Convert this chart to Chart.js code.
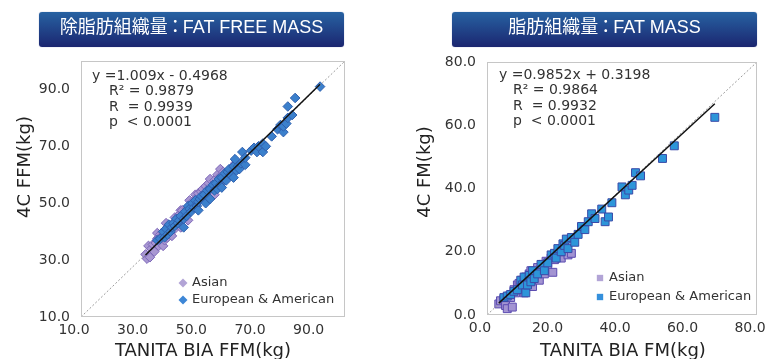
<!DOCTYPE html>
<html>
<head>
<meta charset="utf-8">
<script src="https://cdn.jsdelivr.net/npm/chart.js@4"></script>
<style>
  body { margin: 0; background: #fff; width: 768px; height: 359px; position: relative; overflow: hidden; }
  .box { position: absolute; top: 0; width: 384px; height: 359px; }
  .banner {
    position: absolute; top: 12px; height: 35px; width: 305px; border-radius: 3px;
    background: linear-gradient(#2762a2, #1b2670);
    box-shadow: 0 0 1px #7f88b8;
    color: #fff; text-align: center; line-height: 35px;
    font: 18px "Liberation Sans", "Noto Sans CJK JP", sans-serif;
    font-feature-settings: "halt";
  }
  .banner span { margin: 0 3px; }
</style>
</head>
<body>
<div class="box" style="left:0"><canvas id="ffm" width="384" height="359"></canvas></div>
<div class="box" style="left:384px"><canvas id="fm" width="384" height="359"></canvas></div>
<div class="banner" style="left:39px">除脂肪組織量<span>：</span>FAT FREE MASS</div>
<div class="banner" style="left:452px">脂肪組織量<span>：</span>FAT MASS</div>
<script>
// values, [BIA, 4C] pairs
const ffmAsian = [
  [32,32],[32.5,30.5],[33,35],[33.5,31],[34,34],[34.5,35.5],[35,33],[35.5,36],[36,37.5],[36,39.5],
  [36.5,35],[36.5,38],[37,39],[37.5,36.5],[37.5,38.5],[38,35],[38,40],[38.5,37],[38.5,39.5],[39,41],
  [39,43],[39.5,38],[39.5,40],[40,41.5],[40.5,39],[40.5,42],[41,38.5],[41,40.5],[41.5,43],[42,41],
  [42,45],[42.5,44],[43,45],[43.5,43],[43.5,46],[44,41.5],[44,47.5],[44.5,45],[44.5,47.5],[45.5,46.5],
  [46,48],[46.5,44],[46.5,47],[47,51],[47.5,49],[48,50.5],[48.5,49.5],[49,53],[49.5,52],[50,53.5],
  [50.5,51],[51,54],[51.5,55],[52,52.5],[52.5,56],[53,54],[53.5,57],[54,55],[54,58.5],[54.5,53],
  [55,56],[55.5,53],[55.5,58],[56.5,60],[57.5,59.5],[57.5,62],[58.5,61],[60.5,60],[62.5,64],[63.5,62]
];
const ffmEuro = [
  [36,37],[37,37.5],[38,40],[38.5,38],[39,41],[39.5,39],[40,42.5],[40.5,40],[41,41.5],[41.5,43],
  [42,42],[42.5,44.5],[43,43],[43.5,44],[44,45.5],[45,41.5],[45,44.5],[45.5,47],[46,45.5],[46.5,49],
  [47,48],[47.5,47],[48,50],[48.5,48.5],[49,51],[49.5,49],[50,47.5],[50,50.5],[50.5,51.5],[51,52.5],
  [52,53],[52.5,50],[53,54.5],[53.5,52],[54,51.5],[54,55],[55,56.5],[55.5,54.5],[56,57],[56.5,55],
  [57,58.5],[57.5,56.5],[58,55.5],[58,59],[59,60.5],[59.5,58],[60,61],[60.5,62],[61,60],[62,59],
  [62,63],[62.5,65.5],[63,61.5],[63.5,63],[64,62],[64.5,64],[65,68],[66,63.5],[66,66],[68,68.5],
  [69,69.5],[70,68],[70.5,70],[72,68],[72,71],[73,70],[75,73.5],[77,76],[78,77.5],[79,75],
  [79,77],[80,78],[80.5,84],[80.5,80],[82,81],[83,87],[91.5,91]
];
const fmAsian = [
  [3.5,3.5],[4,4.5],[5,5],[5.5,3],[6,2],[6.5,6],[7,5.5],[7.5,2.5],[8,8],[8.5,7],
  [9,9.5],[9.5,10],[10,8.5],[10.5,11],[11,7],[11.5,12],[12,10],[12.5,13],[13,14],[13.5,9],
  [14,12.5],[14.5,13.5],[15,15],[15.5,11],[16,14.5],[16.5,16],[17,13],[17.5,17],[18,15.5],[19,18],
  [19.5,13.5],[20,17.5],[21,19.5],[22,18],[23,20],[24,19],[25,19.5]
];
const fmEuro = [
  [5,5.5],[6,6],[7,6.5],[8,7.5],[9,8],[10,11],[10.5,9.5],[11,12],[11.5,7],[12,9.5],
  [12.5,12.5],[13,10.5],[13.5,14],[14,11.5],[15,13],[16,16],[17,14],[18,16.5],[19,19],[20,19.5],
  [20.5,18],[21,21],[22,20],[22.5,22.5],[23,22],[23.5,24],[24,21],[25,24.5],[26,23],[27,25.5],
  [28,28],[29,27],[30,29.5],[31,32],[32,30.5],[34,33.5],[35,29.5],[36,31],[37,35.5],[40,40.5],
  [41,38],[42,39.5],[43,41],[44,45],[45.5,44],[52,49.5],[55.5,53.5],[67.5,62.5]
];

const seriesNames = ['Asian', 'European & American'];
const ffmTicks = [10, 30, 50, 70, 90];
const fmTicks = [0, 20, 40, 60, 80];
const ffmRange = [10, 100];
const fmRange = [0, 80];
const ffmFit = [1.009, -0.4968];   // slope, intercept
const fmFit = [0.9852, 0.3198];
const ffmStats = ['y =1.009x - 0.4968', 'R² = 0.9879', 'R  = 0.9939', 'p  < 0.0001'];
const fmStats = ['y =0.9852x + 0.3198', 'R² = 0.9864', 'R  = 0.9932', 'p  < 0.0001'];
const xTitles = ['TANITA BIA FFM(kg)', 'TANITA BIA FM(kg)'];
const yTitles = ['4C FFM(kg)', '4C FM(kg)'];

const FONT = '"DejaVu Sans", sans-serif';

// box around the plot, stats text, legend and axis titles
const notes = {
  id: 'notes',
  afterDraw(chart, args, o) {
    const { ctx, chartArea: a } = chart;
    ctx.save();
    ctx.strokeStyle = '#c6c6c6';
    ctx.lineWidth = 1;
    ctx.strokeRect(a.left + 0.5, a.top + 0.5, a.width - 1, a.height - 1);

    ctx.fillStyle = '#333';
    ctx.font = '14px ' + FONT;
    ctx.textBaseline = 'middle';
    ctx.textAlign = 'left';
    o.stats.forEach((t, i) => {
      ctx.fillText(t, a.left + (i ? o.statX2 : o.statX1), a.top + o.statY + i * 15.6);
    });

    ctx.font = '13px ' + FONT;
    o.legend.forEach((s, i) => {
      const x = a.right - o.legX, y = a.bottom - o.legY + i * o.legGap;
      ctx.fillStyle = s.color;
      Chart.helpers.drawPoint(ctx, { pointStyle: o.marker, radius: o.markerSize, rotation: 0, borderWidth: 0 }, x, y);
      ctx.fillStyle = '#333';
      ctx.fillText(s.label, x + 9, y);
    });

    ctx.fillStyle = '#222';
    ctx.font = '18px ' + FONT;
    ctx.textAlign = 'center';
    ctx.fillText(o.xTitle, o.xTitleX, o.xTitleY);
    ctx.translate(o.yTitleX, o.yTitleY);
    ctx.rotate(-Math.PI / 2);
    ctx.fillText(o.yTitle, 0, 0);
    ctx.restore();
  }
};

function makeChart(el, c) {
  const xs = c.a.concat(c.e).map(p => p[0]);
  const lo = Math.min(...xs), hi = Math.max(...xs);
  const fitLine = [lo, hi].map(x => ({ x: x, y: c.fit[0] * x + c.fit[1] }));
  const idLine = c.range.map(v => ({ x: v, y: v }));
  const toPts = arr => arr.map(p => ({ x: p[0], y: p[1] }));

  const axis = (horizontal) => ({
    type: 'linear',
    min: c.range[0],
    max: c.range[1],
    afterBuildTicks: s => { s.ticks = c.ticks.map(v => ({ value: v })); },
    grid: { display: false, drawTicks: false },
    border: { display: false },
    ticks: {
      color: '#333',
      font: { family: FONT, size: 14 },
      padding: horizontal ? 5 : 11,
      labelOffset: horizontal ? -7 : 0,
      maxRotation: 0,
      callback: v => v.toFixed(1)
    },
    afterFit: s => {
      if (horizontal) { s.height = c.xH; s.paddingLeft = 0; s.paddingRight = 0; }
      else { s.width = c.yW; s.paddingTop = 0; s.paddingBottom = 0; }
    }
  });

  return new Chart(el, {
    type: 'scatter',
    data: {
      datasets: [
        { label: 'fit', data: fitLine, showLine: true, borderColor: '#111', borderWidth: 1.5, pointRadius: 0, order: 0 },
        { label: 'y=x', data: idLine, showLine: true, borderColor: '#9a9a9a', borderWidth: 1, borderDash: [2, 2], pointRadius: 0, order: 1 },
        { label: seriesNames[1], data: toPts(c.e), pointStyle: c.style, radius: c.r,
          backgroundColor: c.eColor[0], borderColor: c.eColor[1], borderWidth: 1, order: 2 },
        { label: seriesNames[0], data: toPts(c.a), pointStyle: c.style, radius: c.r,
          backgroundColor: c.aColor[0], borderColor: c.aColor[1], borderWidth: 1, order: 3 }
      ]
    },
    options: {
      responsive: false,
      animation: false,
      devicePixelRatio: 1,
      layout: { padding: { top: c.top, right: c.right, left: 0, bottom: 0 } },
      scales: { x: axis(true), y: axis(false) },
      plugins: {
        legend: { display: false },
        tooltip: { enabled: false },
        notes: c.notes
      }
    },
    plugins: [notes]
  });
}

makeChart(document.getElementById('ffm'), {
  a: ffmAsian, e: ffmEuro, fit: ffmFit, range: ffmRange, ticks: ffmTicks,
  style: 'rectRot', r: 4.8,
  aColor: ['#a897d2', '#7d68b8'], eColor: ['#3b80cc', '#2f5fae'],
  top: 61, right: 39, yW: 81, xH: 42,
  notes: {
    stats: ffmStats, statX1: 11, statX2: 28, statY: 15,
    legend: [{ label: seriesNames[0], color: '#b2a4d6' }, { label: seriesNames[1], color: '#3d86d6' }],
    marker: 'rectRot', markerSize: 4.5, legX: 162, legY: 34, legGap: 17,
    xTitle: xTitles[0], xTitleX: 203, xTitleY: 351,
    yTitle: yTitles[0], yTitleX: 25, yTitleY: 167
  }
});

makeChart(document.getElementById('fm'), {
  a: fmAsian, e: fmEuro, fit: fmFit, range: fmRange, ticks: fmTicks,
  style: 'rect', r: 5.6,
  aColor: ['#a394d2', '#5b4bb0'], eColor: ['#2d95d9', '#3a4aa8'],
  top: 62, right: 11, yW: 103, xH: 44,
  notes: {
    stats: fmStats, statX1: 12, statX2: 26, statY: 13,
    legend: [{ label: seriesNames[0], color: '#b2a4d6' }, { label: seriesNames[1], color: '#3590dc' }],
    marker: 'rect', markerSize: 4.5, legX: 157, legY: 37, legGap: 19,
    xTitle: xTitles[1], xTitleX: 239, xTitleY: 351,
    yTitle: yTitles[1], yTitleX: 41, yTitleY: 172
  }
});
</script>
</body>
</html>
